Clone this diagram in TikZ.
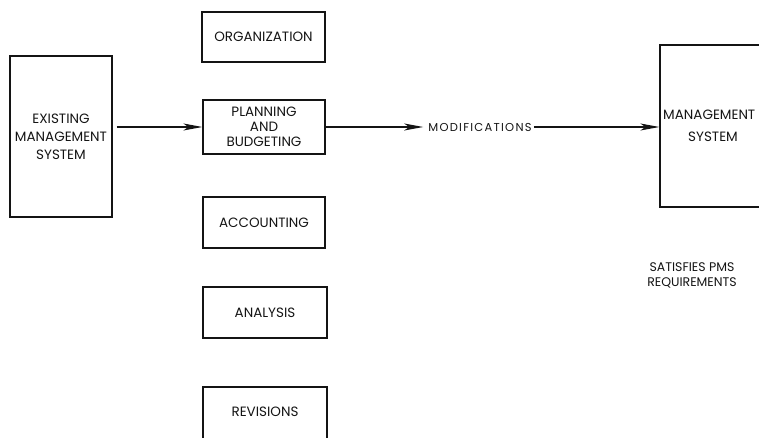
\documentclass[tikz,border=0pt]{standalone}
\usepackage{fontspec}
\setmainfont{Poppins}
\usepackage{tikz}
\usetikzlibrary{
    positioning,
    arrows.meta
}
\definecolor{scanInk}{RGB}{20, 20, 20}

\begin{document}
\begin{tikzpicture}[x=1pt, y=-1pt, >={Stealth[length=19pt, width=7pt, inset=5pt]},
        block/.style={draw=scanInk, line width=1.3pt, align=center, inner sep=0pt,
            font=\fontsize{13.5}{18}\selectfont, text=scanInk},
        label/.style={text=scanInk, inner sep=0pt, font=\fontsize{13.5}{15}\selectfont},
        flow/.style={->, line width=1.2pt, scanInk}]
        \useasboundingbox (0,0) rectangle (759,438);
        \clip (0,0) rectangle (759,438);

        % Existing system
        \node[block, minimum width=102pt, minimum height=161pt] (exist) at (61,136.5)
            {EXISTING\\ MANAGEMENT\\ SYSTEM};

        % Column of functions
        \node[block, minimum width=123pt, minimum height=50pt] (org) at (263.5,37) {ORGANIZATION};
        \node[block, minimum width=122pt, minimum height=54pt, font=\fontsize{13.5}{15}\selectfont] (plan) at (264,127)
            {PLANNING\\AND\\BUDGETING};
        \node[block, minimum width=122pt, minimum height=51pt] (acct) at (264,222.5) {ACCOUNTING};
        \node[block, minimum width=124pt, minimum height=51pt] (anal) at (265,312.5) {ANALYSIS};
        \node[block, minimum width=124pt, minimum height=54pt] (rev) at (265,414) {};
        \node[label] (revtext) at (265,412) {REVISIONS};

        % Target system
        \node[block, minimum width=108pt, minimum height=162pt] (mgmt) at (714,126) {};
        \node[label, anchor=west] (mgmtA) at (663,115) {MANAGEMENT};
        \node[label] (mgmtB) at (713,137) {SYSTEM};

        \node[label, font=\fontsize{11.5}{12}\selectfont\addfontfeature{LetterSpace=11}] (mod) at (480,127) {MODIFICATIONS};

        \node[label, align=center, font=\fontsize{12.5}{15}\selectfont] (req) at (692,275)
            {SATISFIES PMS\\REQUIREMENTS};

        % Connectors
        \draw[flow] (exist.east |- plan.west) ++(4,0) -- (plan.west);
        \draw[flow] (plan.east) -- ([xshift=-5pt]plan.east -| mod.west);
        \draw[flow] ([xshift=2pt]plan.east -| mod.east) -- (mgmt.west |- plan.east);
    \end{tikzpicture}
\end{document}
